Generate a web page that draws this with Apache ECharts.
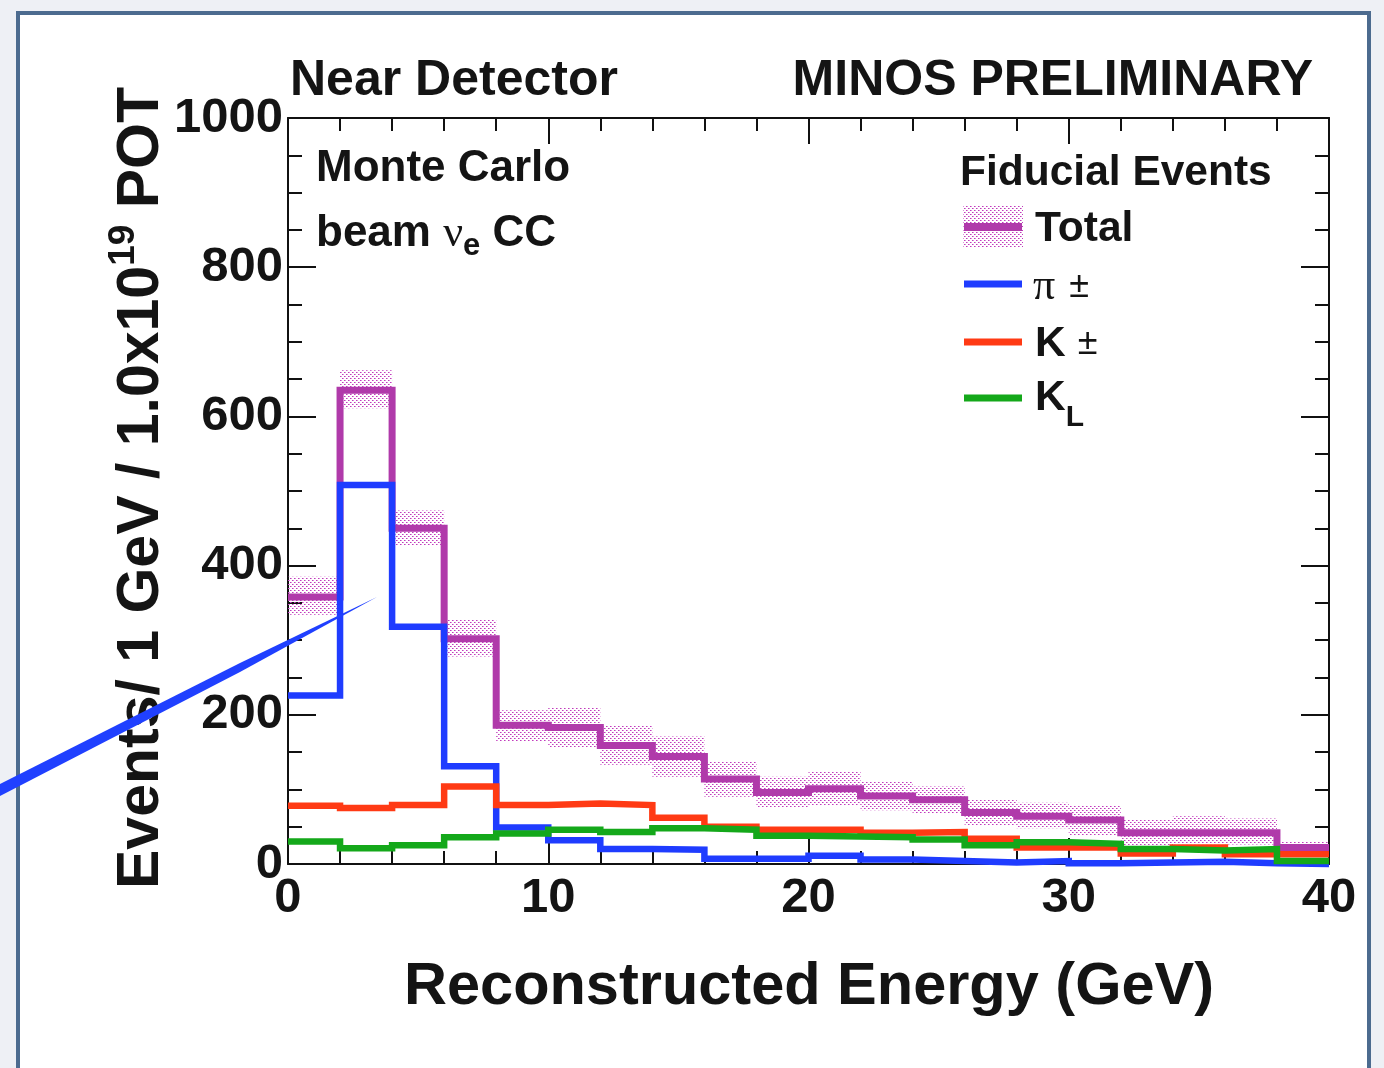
<!DOCTYPE html>
<html>
<head>
<meta charset="utf-8">
<script src="https://cdn.jsdelivr.net/npm/echarts@6/dist/echarts.min.js"></script>
<style>
  html, body { margin: 0; padding: 0; background: #eef0f5; }
  #chart { width: 1384px; height: 1068px; }
</style>
</head>
<body>
<div id="chart"></div>
<script>
// ---- data (2 GeV bins, 0-40 GeV) ----
const binEdges = [0, 2, 4, 6, 8, 10, 12, 14, 16, 18, 20, 22, 24, 26, 28, 30, 32, 34, 36, 38, 40];
const totalEvents = [358, 635, 450, 302, 186, 183, 159, 144, 114, 96, 101, 91, 86, 69, 64, 59, 42, 42, 42, 22];
const totalErrLow = [334, 611, 427, 278, 164, 157, 133, 117, 90, 75, 79, 72, 68, 52, 48, 39, 23, 28, 26, 16];
const totalErrHigh = [385, 662, 474, 327, 206, 209, 186, 171, 137, 117, 124, 110, 104, 86, 82, 79, 59, 64, 61, 30];
const pionEvents = [226, 508, 318, 131, 49, 32, 20, 19, 7, 7, 11, 6, 4, 2, 4, 1, 2, 3, 1, 0];
const kaonChargedEvents = [78, 75, 79, 104, 79, 81, 79, 62, 50, 46, 46, 42, 43, 34, 22, 22, 14, 22, 13, 13];
const kaonLongEvents = [30, 21, 25, 36, 41, 46, 43, 48, 46, 38, 37, 36, 33, 25, 29, 27, 20, 18, 20, 4];
const xTicks = [0, 10, 20, 30, 40];
const yTicks = [0, 200, 400, 600, 800, 1000];

const FONT = "'Liberation Sans', Arial, Helvetica, sans-serif";
const SERIF = "'Liberation Serif', 'DejaVu Serif', serif";
const C_TOTAL = '#b03aaa', C_PI = '#1f3cff', C_KPM = '#ff3a14', C_KL = '#14a81a';

function stepData(vals) {
  const d = vals.map((v, i) => [binEdges[i], v]);
  d.push([binEdges[binEdges.length - 1], vals[vals.length - 1]]);
  return d;
}

// dotted hatch pattern
const pc = document.createElement('canvas');
pc.width = 4; pc.height = 4;
const pctx = pc.getContext('2d');
pctx.fillStyle = '#c03cbc';
pctx.fillRect(0, 0, 1, 1);
pctx.fillRect(2, 2, 1, 1);
pctx.fillStyle = 'rgba(200,70,195,0.6)';
pctx.fillRect(1, 0, 1, 1);
pctx.fillRect(3, 2, 1, 1);
const hatch = { image: pc, repeat: 'repeat' };

const bandData = totalEvents.map((v, i) => [binEdges[i], binEdges[i + 1], totalErrLow[i], totalErrHigh[i]]);

const chart = echarts.init(document.getElementById('chart'), null, { renderer: 'canvas' });

const lineSeries = (name, vals, color, width) => ({
  name, type: 'line', step: 'end', data: stepData(vals), symbol: 'none', clip: false,
  lineStyle: { color, width, join: 'miter', cap: 'butt' }, animation: false
});

const labelStyle = { fontSize: 49, fontWeight: 'bold', color: '#141414', fontFamily: FONT,
                     formatter: v => String(v) };
const axisLineStyle = { onZero: false, lineStyle: { color: '#111', width: 2 } };
const tickStyle = { color: '#111', width: 2 };

function xAxisDef(pos, showLabels) {
  return { type: 'value', min: xTicks[0], max: xTicks[xTicks.length - 1], interval: xTicks[1] - xTicks[0], position: pos,
    axisLine: axisLineStyle,
    axisTick: { show: true, inside: true, length: 26, lineStyle: tickStyle },
    minorTick: { show: true, splitNumber: 5, length: 13, lineStyle: tickStyle },
    axisLabel: showLabels ? Object.assign({ margin: 10 }, labelStyle) : { show: false },
    splitLine: { show: false } };
}
function yAxisDef(pos, showLabels) {
  return { type: 'value', min: yTicks[0], max: yTicks[yTicks.length - 1], interval: yTicks[1] - yTicks[0], position: pos,
    axisLine: Object.assign({ show: true }, axisLineStyle),
    axisTick: { show: true, inside: true, length: 28, lineStyle: tickStyle },
    minorTick: { show: true, splitNumber: 4, length: 14, lineStyle: tickStyle },
    axisLabel: showLabels ? Object.assign({ margin: 5, padding: [7, 0, 0, 0] }, labelStyle) : { show: false },
    splitLine: { show: false } };
}

chart.setOption({
  backgroundColor: '#eef0f5',
  animation: false,
  grid: { left: 288, right: 55, top: 118, bottom: 204 },
  xAxis: [xAxisDef('bottom', true), xAxisDef('top', false)],
  yAxis: [yAxisDef('left', true), yAxisDef('right', false)],
  series: [
    { name: 'Total error', type: 'custom', data: bandData, clip: false, z: 1,
      renderItem: function (params, api) {
        const p0 = api.coord([api.value(0), api.value(3)]);
        const p1 = api.coord([api.value(1), api.value(2)]);
        return { type: 'rect', shape: { x: p0[0], y: p0[1], width: p1[0] - p0[0], height: p1[1] - p0[1] },
                 style: { fill: hatch } };
      } },
    lineSeries('Total', totalEvents, C_TOTAL, 7),
    lineSeries('π ±', pionEvents, C_PI, 6.5),
    lineSeries('K ±', kaonChargedEvents, C_KPM, 6.5),
    lineSeries('K_L', kaonLongEvents, C_KL, 6.5)
  ],
  graphic: [
    // slide frame
    { type: 'rect', z: -10, shape: { x: 18, y: 13, width: 1351, height: 1070 },
      style: { fill: '#ffffff', stroke: '#4c6b8f', lineWidth: 4 } },
    // texts
    { type: 'text', z: 10, x: 290, y: 81, style: { text: 'Near Detector', font: 'bold 50px ' + FONT, fill: '#141414', textAlign: 'left', textVerticalAlign: 'middle' } },
    { type: 'text', z: 10, x: 1313, y: 81, style: { text: 'MINOS PRELIMINARY', font: 'bold 50px ' + FONT, fill: '#141414', textAlign: 'right', textVerticalAlign: 'middle' } },
    { type: 'text', z: 10, x: 316, y: 169, style: { text: 'Monte Carlo', font: 'bold 44px ' + FONT, fill: '#141414', textAlign: 'left', textVerticalAlign: 'middle' } },
    { type: 'text', z: 10, x: 316, y: 234, style: {
        text: '{b|beam }{nu|ν}{sub|e}{b| CC}', textAlign: 'left', textVerticalAlign: 'middle', fill: '#141414',
        rich: {
          b: { font: 'bold 44px ' + FONT, fill: '#141414', lineHeight: 56, verticalAlign: 'middle' },
          nu: { font: '44px ' + SERIF, fill: '#141414', lineHeight: 56, verticalAlign: 'middle' },
          sub: { font: 'bold 31px ' + FONT, fill: '#141414', lineHeight: 56, verticalAlign: 'bottom' }
        } } },
    { type: 'text', z: 10, x: 960, y: 173, style: { text: 'Fiducial Events', font: 'bold 42.5px ' + FONT, fill: '#141414', textAlign: 'left', textVerticalAlign: 'middle' } },
    // legend
    { type: 'rect', z: 10, shape: { x: 963, y: 205, width: 60, height: 42 }, style: { fill: hatch } },
    { type: 'line', z: 11, shape: { x1: 964, y1: 227, x2: 1022, y2: 227 }, style: { stroke: C_TOTAL, lineWidth: 8 } },
    { type: 'text', z: 10, x: 1035, y: 229, style: { text: 'Total', font: 'bold 42.5px ' + FONT, fill: '#141414', textAlign: 'left', textVerticalAlign: 'middle' } },
    { type: 'line', z: 11, shape: { x1: 964, y1: 284, x2: 1022, y2: 284 }, style: { stroke: C_PI, lineWidth: 7 } },
    { type: 'text', z: 10, x: 1033, y: 287, style: {
        text: '{p|π}{pm|±}', textAlign: 'left', textVerticalAlign: 'middle',
        rich: { p: { font: '44px ' + SERIF, fill: '#141414', lineHeight: 50 },
                pm: { font: '36px ' + FONT, fill: '#141414', lineHeight: 50, padding: [0, 0, 0, 14] } } } },
    { type: 'line', z: 11, shape: { x1: 964, y1: 342, x2: 1022, y2: 342 }, style: { stroke: C_KPM, lineWidth: 7 } },
    { type: 'text', z: 10, x: 1035, y: 344, style: {
        text: '{k|K}{pm|±}', textAlign: 'left', textVerticalAlign: 'middle',
        rich: { k: { font: 'bold 42.5px ' + FONT, fill: '#141414', lineHeight: 50 },
                pm: { font: '36px ' + FONT, fill: '#141414', lineHeight: 50, padding: [0, 0, 0, 12] } } } },
    { type: 'line', z: 11, shape: { x1: 964, y1: 398, x2: 1022, y2: 398 }, style: { stroke: C_KL, lineWidth: 7 } },
    { type: 'text', z: 10, x: 1035, y: 405, style: {
        text: '{k|K}{l|L}', textAlign: 'left', textVerticalAlign: 'middle',
        rich: { k: { font: 'bold 42.5px ' + FONT, fill: '#141414', lineHeight: 56, verticalAlign: 'top' },
                l: { font: 'bold 30px ' + FONT, fill: '#141414', lineHeight: 56, verticalAlign: 'bottom' } } } },
    // axis titles
    { type: 'text', z: 10, x: 809, y: 988, style: { text: 'Reconstructed Energy (GeV)', font: 'bold 59.5px ' + FONT, fill: '#141414', textAlign: 'center', textVerticalAlign: 'middle' } },
    { type: 'text', z: 10, x: 138, y: 488, rotation: Math.PI / 2, style: {
        text: '{a|Events/ 1 GeV / 1.0x10}{s|19}{a| POT}', textAlign: 'center', textVerticalAlign: 'middle',
        rich: { a: { font: 'bold 59px ' + FONT, fill: '#141414', lineHeight: 66, verticalAlign: 'bottom' },
                s: { font: 'bold 37px ' + FONT, fill: '#141414', lineHeight: 66, verticalAlign: 'top' } } } },
    // stray blue stroke (annotation arrow)
    { type: 'polygon', z: 12, shape: { points: [[0, 784], [240, 663], [377, 597], [240, 672], [0, 796]] },
      style: { fill: '#2040ff' } }
  ]
});
</script>
</body>
</html>
